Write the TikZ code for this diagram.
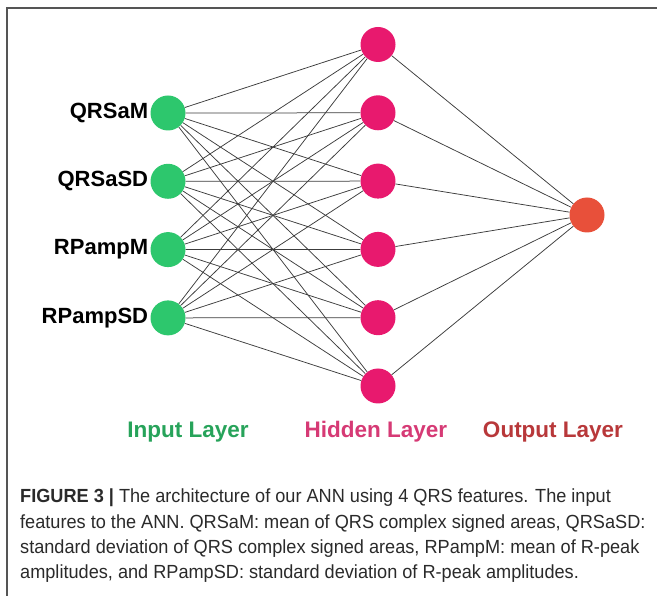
\documentclass[tikz,border=0pt]{standalone}
\usepackage{fontspec}
\setmainfont{Liberation Sans}
\newfontfamily\capfont[FakeStretch=0.955]{Liberation Sans}
\usetikzlibrary{positioning}
\definecolor{InGreen}{HTML}{2DC76D}
\definecolor{HidPink}{HTML}{E8196E}
\definecolor{OutRed}{HTML}{E8503A}
\definecolor{InText}{HTML}{27A35A}
\definecolor{HidText}{HTML}{D63A75}
\definecolor{OutText}{HTML}{B8383A}
\definecolor{EdgeGray}{HTML}{3C3C3C}
\definecolor{FrameGray}{HTML}{555555}
\definecolor{CapText}{HTML}{2A2A2A}

\begin{document}
\begin{tikzpicture}[x=1pt,y=-1pt,
        neuron/.style={circle, minimum size=35pt, inner sep=0pt},
        innode/.style={neuron, fill=InGreen},
        hidnode/.style={neuron, fill=HidPink},
        outnode/.style={neuron, fill=OutRed},
        conn/.style={draw=EdgeGray, line width=0.75pt},
        feat/.style={font=\bfseries\fontsize{22}{24}\selectfont, inner sep=2pt},
        layer/.style={font=\bfseries\fontsize{22.5}{24}\selectfont},
      ]
      \useasboundingbox (0,0) rectangle (657,596);
      \draw[FrameGray, line width=1.4pt] (7,596) -- (7,8) -- (657,8);

      % layers
      \foreach \i in {1,...,4}
        \node[innode] (in\i) at (168,{113+68.3*(\i-1)}) {};
      \foreach \j in {1,...,6}
        \node[hidnode] (hid\j) at (378,{44.5+68.3*(\j-1)}) {};
      \node[outnode] (out) at (587,215) {};

      % connections
      \foreach \i in {1,...,4}
        \foreach \j in {1,...,6}
          \draw[conn] (in\i) -- (hid\j);
      \foreach \j in {1,...,6}
        \draw[conn] (hid\j) -- (out);

      % feature names
      \node[feat, left=0pt of in1] (lab1) {QRSaM};
      \node[feat, left=0pt of in2] (lab2) {QRSaSD};
      \node[feat, left=0pt of in3] (lab3) {RPampM};
      \node[feat, left=0pt of in4] (lab4) {RPampSD};

      \node[layer, text=InText] (inlayer) at (188,432) {Input Layer};
      \node[layer, text=HidText] (hidlayer) at (376,432) {Hidden Layer};
      \node[layer, text=OutText] (outlayer) at (553,432) {Output Layer};

      \node[anchor=north west, align=left, inner sep=0pt, text=CapText,
            font=\capfont\fontsize{19}{25.3}\selectfont] (caption) at (20,489)
        {\textbf{FIGURE 3 |} The architecture of our ANN using 4 QRS features. The input\\
         features to the ANN. QRSaM: mean of QRS complex signed areas, QRSaSD:\\
         standard deviation of QRS complex signed areas, RPampM: mean of R-peak\\
         amplitudes, and RPampSD: standard deviation of R-peak amplitudes.};
    \end{tikzpicture}
\end{document}
